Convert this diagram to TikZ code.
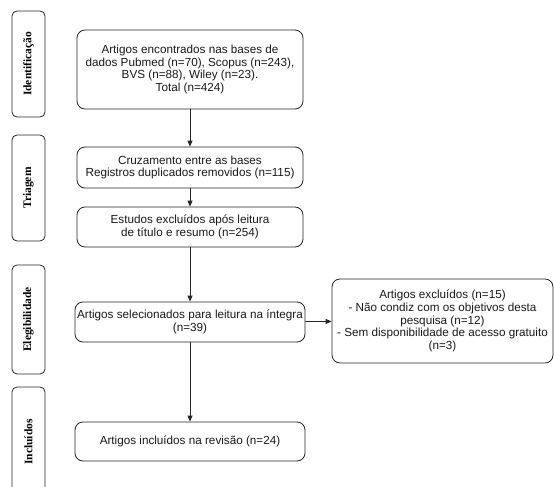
\documentclass[tikz,border=0pt]{standalone}
\usepackage{fontspec}
\setmainfont{Liberation Sans}
\newfontfamily\sidefont{Liberation Serif}
\usetikzlibrary{arrows.meta}
\begin{document}
\begin{tikzpicture}[x=1pt,y=-1pt,
  box/.style={draw=black!85, line width=0.8pt, rounded corners=8pt, align=center, inner sep=0pt,
    font=\fontsize{11.7}{12.8}\selectfont, text=black!90},
  side/.style={draw=black!85, line width=0.8pt, rounded corners=5pt, minimum width=33pt, inner sep=0pt,
    font=\sidefont\bfseries\fontsize{11.5}{13}\selectfont},
  arr/.style={draw=black!85, line width=0.8pt, -{Triangle[length=6pt,width=5pt]}}]
\useasboundingbox (0,0) rectangle (554,487);
\node[box, minimum width=226pt, minimum height=79pt] (b1) at (190,69.5)
  {Artigos encontrados nas bases de\\dados Pubmed (n=70), Scopus (n=243),\\BVS (n=88), Wiley (n=23).\\Total (n=424)};
\node[box, minimum width=226pt, minimum height=41pt] (b2) at (190,167.5)
  {Cruzamento entre as bases\\Registros duplicados removidos (n=115)};
\node[box, minimum width=226pt, minimum height=40pt] (b3) at (190,227)
  {Estudos excluídos após leitura\\de título e resumo (n=254)};
\node[box, minimum width=230pt, minimum height=40pt] (b4) at (190,322)
  {Artigos selecionados para leitura na íntegra\\(n=39)};
\node[box, minimum width=230pt, minimum height=39pt] (b5) at (190,441.5)
  {Artigos incluídos na revisão (n=24)};
\node[box, minimum width=221pt, minimum height=84pt] (r) at (442.5,321)
  {Artigos excluídos (n=15)\\- Não condiz com os objetivos desta\\pesquisa (n=12)\\- Sem disponibilidade de acesso gratuito\\(n=3)};
\node[side, minimum height=106pt] (s1) at (28.5,64) {\rotatebox{90}{Identificação}};
\node[side, minimum height=106pt] (s2) at (28.5,188) {\rotatebox{90}{Triagem}};
\node[side, minimum height=109pt] (s3) at (28.5,319.5) {\rotatebox{90}{Elegibilidade}};
\node[side, minimum height=110pt] (s4) at (28.5,442) {\rotatebox{90}{Incluídos}};
\draw[arr] (b1) -- (b2);
\draw[arr] (b2) -- (b3);
\draw[arr] (b3) -- (b4);
\draw[arr] (b4) -- (b5);
\draw[arr] (b4) -- (r);
\end{tikzpicture}
\end{document}
